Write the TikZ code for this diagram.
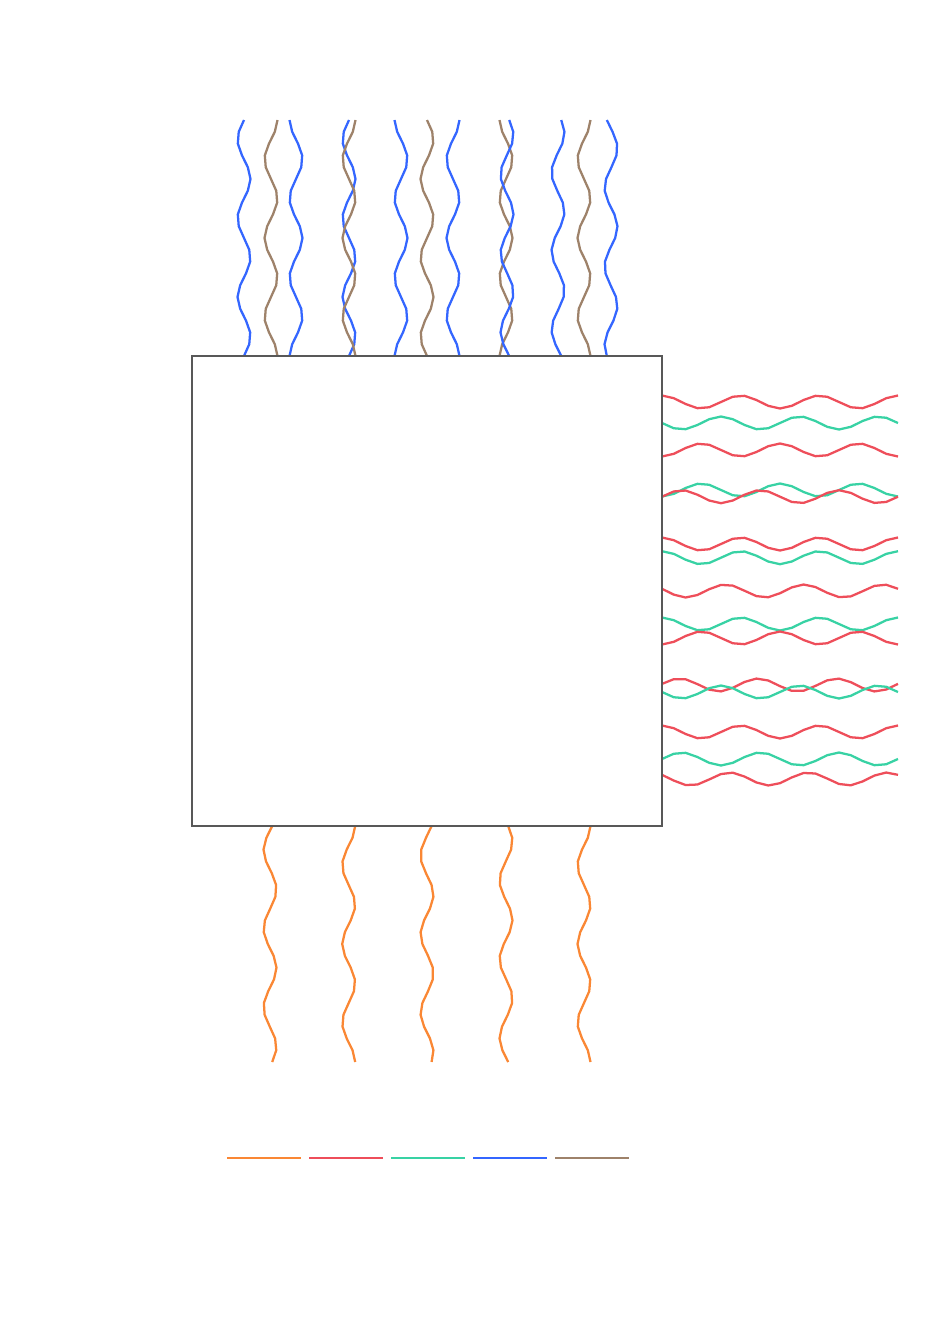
\documentclass[tikz,border=0pt]{standalone}
\definecolor{wireOrange}{RGB}{250,135,52}
\definecolor{wireRed}{RGB}{238,78,90}
\definecolor{wireGreen}{RGB}{56,210,164}
\definecolor{wireBlue}{RGB}{52,102,255}
\definecolor{wireBrown}{RGB}{158,130,106}
\definecolor{boxGray}{RGB}{88,88,88}

\begin{document}
\begin{tikzpicture}[
    x=0.75pt,y=0.75pt,
    yscale=-1,xscale=1,
    every path/.append style ={line width = 1.7pt,},
    wire/.style = {line join=round},
]
    \useasboundingbox (0,0) rectangle (946,1336);

    % 上方波线 (3 periods over 236)
    \foreach \c/\p/\col in {
        244/180/wireBlue, 271/90/wireBrown, 296/-90/wireBlue,
        349/180/wireBlue, 349/90/wireBrown, 401/-90/wireBlue,
        427/0/wireBrown, 453/90/wireBlue, 506/-90/wireBrown,
        507/20/wireBlue, 558/30/wireBlue, 584/90/wireBrown,
        611/-40/wireBlue}{
        \draw [wire, \col] plot [domain=0:236, samples=21]
            ({\c + 6.5*sin(4.57627*\x + \p)}, {120 + \x});
    }

    % 右侧波线
    \foreach \c/\p/\col in {
        402/-90/wireRed, 423/0/wireGreen, 450/90/wireRed,
        490/90/wireGreen, 496.7/180/wireRed, 544/-90/wireRed,
        557.7/-90/wireGreen, 591/-20/wireRed, 624/-90/wireGreen,
        638/90/wireRed, 685/190/wireRed, 692/0/wireGreen,
        732/-90/wireRed, 759/180/wireGreen, 779/-40/wireRed}{
        \draw [wire, \col] plot [domain=0:236, samples=21]
            ({662 + \x}, {\c + 6.5*sin(4.57627*\x + \p)});
    }

    % 下方波线
    \foreach \c/\p in {270/160, 348.7/90, 427/135, 506/20, 584/90}{
        \draw [wire, wireOrange] plot [domain=0:236, samples=21]
            ({\c + 6.5*sin(4.57627*\x + \p)}, {826 + \x});
    }

    % 方框
    \node (chip) [
        draw = boxGray,
        minimum width = 352.5pt, minimum height = 352.5pt,
        inner sep = 0pt, outer sep = 0pt,
    ] at (427,591) {};

    % 图例
    \foreach \col [count=\i from 0] in {wireOrange, wireRed, wireGreen, wireBlue, wireBrown}{
        \draw [\col, line width = 2.2pt] (227 + 82*\i, 1158) -- (301 + 82*\i, 1158);
    }
\end{tikzpicture}
\end{document}
